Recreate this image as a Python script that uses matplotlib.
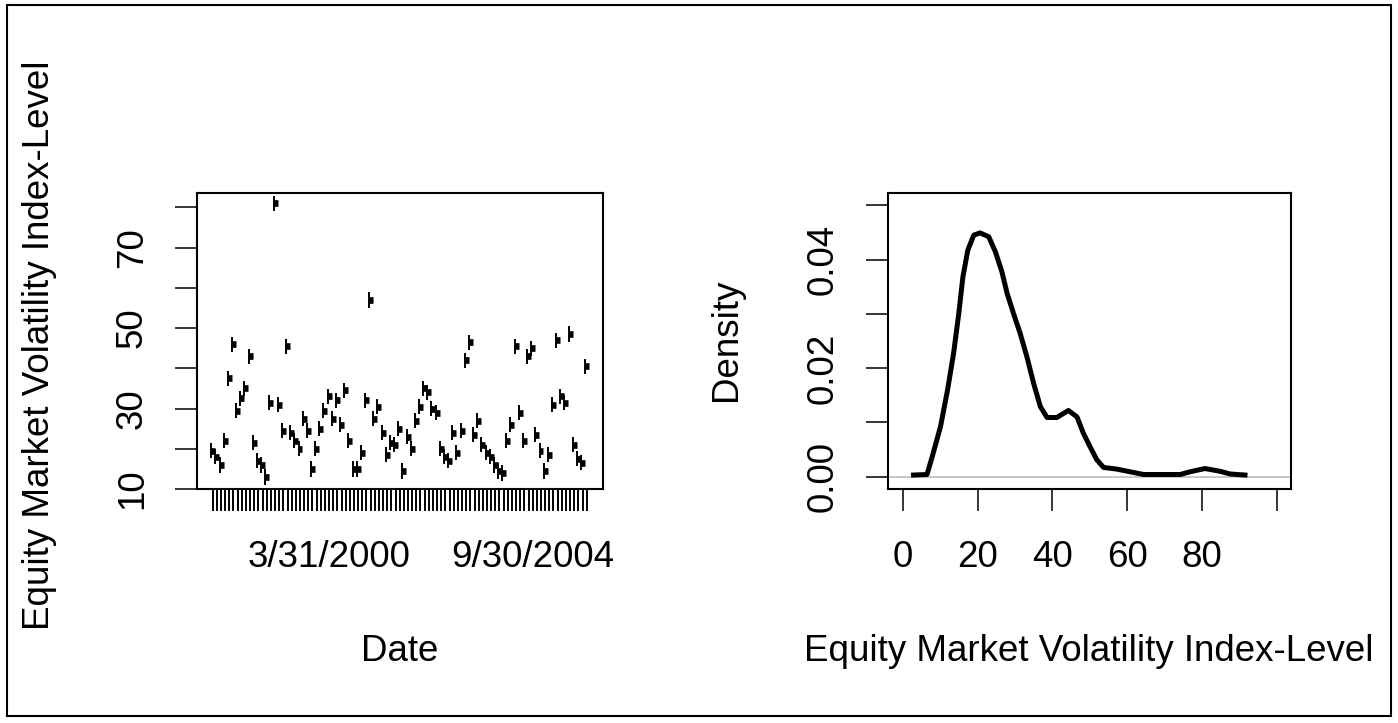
import matplotlib
matplotlib.use("Agg")
import matplotlib.pyplot as plt
from matplotlib.patches import Rectangle

plt.rcParams['font.family'] = ['Liberation Sans', 'DejaVu Sans']
FS = 26.5

# VIX level per month, read left to right off the left panel
vix = [19.5, 18, 16, 22, 37.5, 46, 29.5, 32.5, 35, 43,
       21.5, 17, 16, 13, 31.5, 81, 31, 24.5, 45.5, 24,
       22, 20, 27.5, 24.5, 15, 20, 25, 29.5, 33, 27.5,
       32, 26, 34.5, 22, 15, 15, 19, 32, 57, 27.5,
       30.5, 24, 18.5, 21.5, 21, 25, 14.5, 23, 20, 27,
       30.5, 35, 34, 30, 29, 20, 18, 17, 24, 19,
       24.5, 42, 46.5, 23.5, 27, 21, 19, 18, 16, 14.5,
       14, 22, 26, 45.5, 29, 22, 43, 45, 23.5, 19.5,
       14.5, 18.5, 31, 47, 33, 31.5, 48.5, 21, 17.5, 16.5,
       40.5]

# only two date labels survive on the factor axis
shown_dates = ["3/31/2000", "9/30/2004"]
shown_at = [28, 77]

# density curve
dens_x = [2.9, 6.5, 7.9, 10.1, 12.0, 13.6, 15.0, 16.1, 17.4, 19.0,
          20.7, 23.0, 24.8, 26.5, 27.9, 29.6, 31.4, 33.2, 35.0, 36.8,
          38.6, 41.2, 44.3, 46.6, 48.3, 50.1, 51.9, 53.7, 57.2, 60.8,
          64.4, 74.2, 76.8, 80.8, 84.8, 87.5, 91.5]
dens_y = [0.0003, 0.0004, 0.0037, 0.0092, 0.0160, 0.0227, 0.0301, 0.0368, 0.0417, 0.0445,
          0.0449, 0.0442, 0.0414, 0.0378, 0.0338, 0.0301, 0.0264, 0.0221, 0.0172, 0.0129,
          0.0109, 0.0109, 0.0122, 0.0110, 0.0080, 0.0055, 0.0031, 0.0017, 0.0014, 0.0009,
          0.0004, 0.0004, 0.0009, 0.0015, 0.0010, 0.0005, 0.0003]

W, H = 1398, 723
fig = plt.figure(figsize=(W / 100, H / 100), dpi=100)

def px_axes(x0, y0, x1, y1):
    return fig.add_axes([x0 / W, (H - y1) / H, (x1 - x0) / W, (y1 - y0) / H])

ax1 = px_axes(196.7, 193.3, 602.7, 489)
ax2 = px_axes(887.5, 193.3, 1291, 489)

for ax in (ax1, ax2):
    for s in ax.spines.values():
        s.set_linewidth(1.5)
    ax.tick_params(direction='out', length=15.8, width=1.1, labelsize=FS)
    ax.tick_params(axis='x', pad=21)
    ax.tick_params(axis='y', pad=18)
ax1.tick_params(axis='x', width=1.4)

# ---- left: one degenerate box per month ----
n = len(vix)
pos = list(range(n))
left = [p - 0.35 for p in pos]
right = [p + 0.6 for p in pos]
ax1.vlines(left, [v - 1.9 for v in vix], [v + 1.9 for v in vix], color='black', lw=1.4)
ax1.hlines(vix, left, right, color='black', lw=4.8)

step = (586.7 - 212.7) / (n - 1)
marg = 16.0 / step
ax1.set_xlim(-marg, n - 1 + marg)
ax1.set_ylim(10, 83.5)
ax1.set_xticks(pos)
xlabels = [''] * n
for d, i in zip(shown_dates, shown_at):
    xlabels[i] = d
ax1.set_xticklabels(xlabels)
ax1.set_yticks([10, 20, 30, 40, 50, 60, 70, 80])
ax1.set_yticklabels(['10', '', '30', '', '50', '', '70', ''], rotation=90, va='center')
ax1.text(-0.386, 0.487, 'Equity Market Volatility Index-Level', transform=ax1.transAxes,
         rotation=90, ha='center', va='center', fontsize=FS)
ax1.text(0.5, -0.551, 'Date', transform=ax1.transAxes, ha='center', va='center', fontsize=FS)

# ---- right: density ----
ax2.axhline(0, color='#bebebe', lw=1.2)
ax2.plot(dens_x, dens_y, color='black', lw=3.6, solid_joinstyle='round')
ax2.set_xlim(-4.06, 103.8)
ax2.set_ylim(-0.00227, 0.0522)
ax2.set_xticks([0, 20, 40, 60, 80, 100])
ax2.set_xticklabels(['0', '20', '40', '60', '80', ''])
ax2.set_yticks([0, 0.01, 0.02, 0.03, 0.04, 0.05])
ax2.set_yticklabels(['0.00', '', '0.02', '', '0.04', ''], rotation=90, va='center')
ax2.text(-0.398, 0.504, 'Density', transform=ax2.transAxes,
         rotation=90, ha='center', va='center', fontsize=FS)
ax2.text(0.5, -0.551, 'Equity Market Volatility Index-Level', transform=ax2.transAxes,
         ha='center', va='center', fontsize=FS)

# outer frame
fig.add_artist(Rectangle((7 / W, (H - 716) / H), (1391 - 7) / W, (716 - 5) / H,
                         transform=fig.transFigure, fill=False, edgecolor='black', lw=1.5))

fig.savefig('out.png', dpi=100)
